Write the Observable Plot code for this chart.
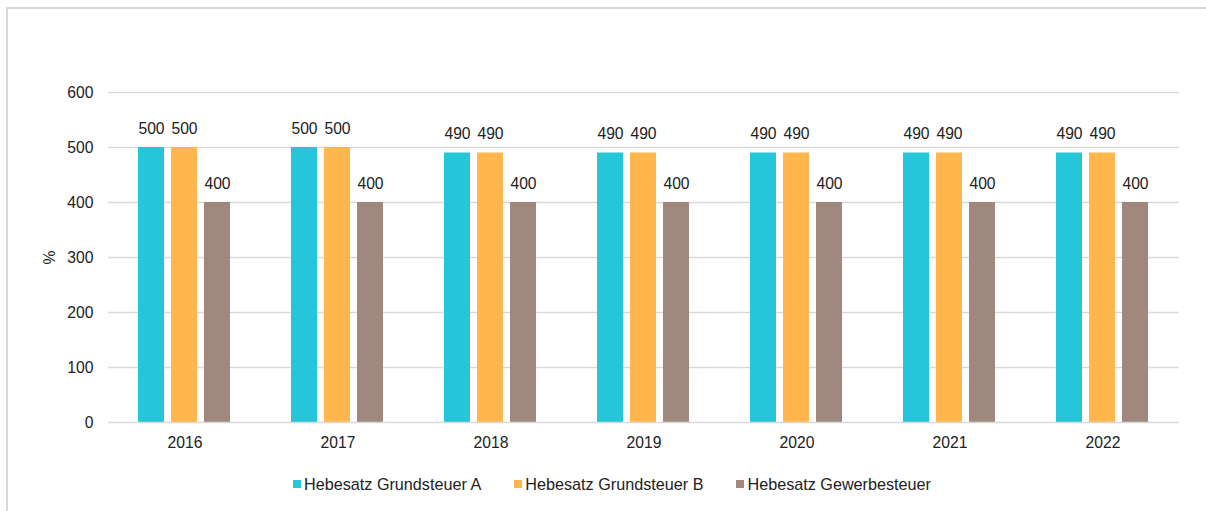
<!DOCTYPE html>
<html>
<head>
<meta charset="utf-8">
<script src="https://cdn.jsdelivr.net/npm/d3@7"></script>
<script src="https://cdn.jsdelivr.net/npm/@observablehq/plot@0.6"></script>
<style>
  html, body { margin: 0; padding: 0; background: #fff; overflow: hidden; }
  body { width: 1206px; height: 511px; position: relative; font-family: "Liberation Sans", Arial, sans-serif; }
  .line { position: absolute; background: #d9d9d9; }
  #topline { left: 6px; top: 7px; width: 1200px; height: 2px; }
  #leftline { left: 6px; top: 7px; width: 2px; height: 504px; }
  #chart { position: absolute; left: 0; top: 0; }
  #legend { position: absolute; left: 293px; top: 475px; display: flex; align-items: center; font-size: 16.2px; line-height: 18px; color: #222; }
  .item { display: flex; align-items: center; margin-right: 33px; }
  .sw { width: 8px; height: 8px; margin-right: 3px; }
</style>
</head>
<body>
<div id="topline" class="line"></div>
<div id="leftline" class="line"></div>
<div id="chart"></div>
<div id="legend"></div>
<script>
const years = ["2016", "2017", "2018", "2019", "2020", "2021", "2022"];
const series = ["Hebesatz Grundsteuer A", "Hebesatz Grundsteuer B", "Hebesatz Gewerbesteuer"];
const grundsteuerA = [500, 500, 490, 490, 490, 490, 490];
const grundsteuerB = [500, 500, 490, 490, 490, 490, 490];
const gewerbesteuer = [400, 400, 400, 400, 400, 400, 400];
const colors = ["#26C6DA", "#FFB74D", "#A1887F"];
const yTicks = [0, 100, 200, 300, 400, 500, 600];

const values = [grundsteuerA, grundsteuerB, gewerbesteuer];
const data = [];
years.forEach((year, i) => {
  series.forEach((s, j) => data.push({ year, series: s, value: values[j][i] }));
});

const chart = Plot.plot({
  width: 1206,
  height: 460,
  marginLeft: 107,
  marginRight: 26,
  marginTop: 92,
  marginBottom: 38,
  style: { fontFamily: "'Liberation Sans', Arial, sans-serif", fontSize: "15.7px", color: "#222", background: "transparent", overflow: "visible" },
  fx: { domain: years, padding: 0, label: null },
  x: { domain: series, axis: null, paddingInner: 0.2, paddingOuter: 0.875 },
  y: { domain: [0, 600], label: null },
  color: { domain: series, range: colors },
  marks: [
    Plot.ruleY(yTicks.filter(d => d > 0), { stroke: "#d9d9d9", strokeWidth: 1.5 }),
    Plot.barY(data, { fx: "year", x: "series", y: "value", fill: "series" }),
    Plot.ruleY([0], { stroke: "#d9d9d9", strokeWidth: 1.5 }),
    Plot.text(data, { fx: "year", x: "series", y: "value", text: d => String(d.value), dy: -19, fontSize: 15.7, fill: "#222" }),
    Plot.axisY({ ticks: yTicks, tickSize: 0, tickPadding: 15, fontSize: 15.7, label: "%", labelAnchor: "center", labelArrow: "none", labelOffset: 65 }),
    Plot.axisFx({ anchor: "bottom", tickSize: 0, tickPadding: 14, fontSize: 15.7, label: null })
  ]
});
document.getElementById("chart").appendChild(chart);

const legend = document.getElementById("legend");
series.forEach((s, j) => {
  const item = document.createElement("div");
  item.className = "item";
  const sw = document.createElement("span");
  sw.className = "sw";
  sw.style.background = colors[j];
  const t = document.createElement("span");
  t.textContent = s;
  item.appendChild(sw);
  item.appendChild(t);
  legend.appendChild(item);
});
</script>
</body>
</html>
